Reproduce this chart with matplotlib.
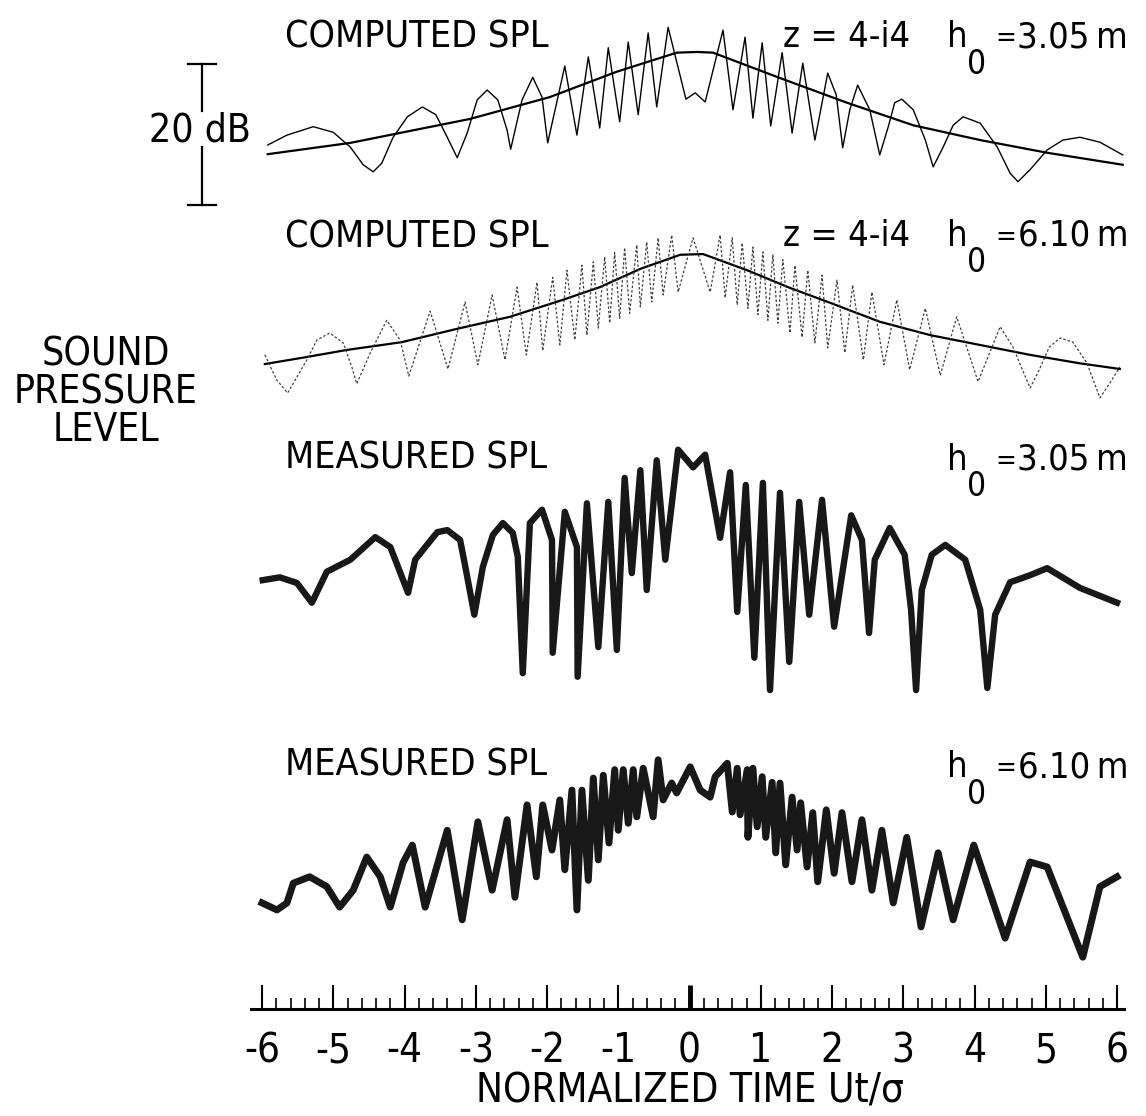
import matplotlib
matplotlib.use("Agg")
import matplotlib.pyplot as plt
from matplotlib import font_manager as fm
from matplotlib.ticker import MultipleLocator

# pick a condensed sans if one is installed (the original lettering is narrow)
narrow = ('condensed', 'semi-condensed', 'extra-condensed')
family, stretch = 'DejaVu Sans', 'normal'
for want in ['Liberation Sans Narrow', 'DejaVu Sans', 'Roboto Condensed', 'Roboto',
             'Open Sans Condensed', 'Open Sans', 'Noto Sans']:
    hits = [f for f in fm.fontManager.ttflist if f.name == want and f.stretch in narrow]
    if hits:
        family, stretch = want, hits[0].stretch
        break
plt.rcParams['font.family'] = [family, 'DejaVu Sans']
plt.rcParams['font.stretch'] = stretch

# Normalized time Ut/sigma (x) and level in dB above each panel's own floor (y)

# computed SPL, h0 = 3.05 m : smooth (free field) curve and interference curve
c1_smooth_x = [-5.92, -4.76, -3.08, -1.96, -1.02, -0.18, 0.11, 0.33, 1.27, 2.21, 3.14, 4.08, 5.02, 6.08]
c1_smooth_y = [6.5, 8.1, 11.5, 14.6, 18.2, 20.9, 21.0, 20.9, 17.3, 13.8, 10.6, 8.5, 6.7, 5.0]
c1_x = [-5.92, -5.65, -5.28, -5.00, -4.76, -4.58, -4.44, -4.32, -4.16, -3.96, -3.75, -3.56,
        -3.40, -3.26, -3.12, -2.98, -2.84, -2.69, -2.56, -2.51, -2.35, -2.20, -2.07, -1.99,
        -1.75, -1.58, -1.42, -1.26, -1.14, -0.98, -0.86, -0.72, -0.58, -0.46, -0.30, -0.05,
        0.08, 0.22, 0.47, 0.61, 0.78, 0.89, 1.02, 1.14, 1.30, 1.44, 1.59, 1.76, 1.94, 2.06,
        2.15, 2.25, 2.36, 2.53, 2.67, 2.79, 2.88, 2.98, 3.14, 3.31, 3.42, 3.56, 3.70, 3.84,
        4.08, 4.32, 4.50, 4.61, 4.78, 5.02, 5.24, 5.48, 5.76, 6.08]
c1_y = [7.8, 9.2, 10.4, 9.6, 7.5, 5.0, 4.0, 5.2, 8.9, 11.8, 13.2, 12.1,
        8.9, 6.0, 9.5, 14.2, 15.6, 14.2, 9.9, 7.2, 14.2, 17.4, 14.6, 8.1,
        19.0, 9.2, 20.3, 10.2, 21.6, 11.1, 22.4, 12.1, 23.7, 13.2, 24.5, 14.3,
        15.2, 13.9, 24.1, 12.8, 23.1, 11.6, 22.3, 10.5, 20.9, 9.5, 19.4, 8.5, 18.0, 14.9,
        7.4, 12.8, 16.3, 12.8, 6.4, 10.4, 13.8, 14.3, 12.8, 8.5, 4.7, 7.5, 10.6, 11.8,
        10.9, 7.5, 3.8, 2.6, 4.3, 7.1, 8.5, 8.9, 8.2, 6.4]

# computed SPL, h0 = 6.10 m
c2_smooth_x = [-5.96, -5.37, -4.81, -4.04, -3.26, -2.52, -1.78, -1.26, -0.69, -0.13, 0.19,
               0.81, 1.41, 1.97, 2.67, 3.38, 4.08, 4.78, 5.48, 6.04]
c2_smooth_y = [5.1, 6.1, 7.1, 8.2, 10.1, 11.8, 14.2, 16.0, 18.6, 20.6, 20.7,
               18.4, 15.9, 13.8, 11.1, 9.2, 7.8, 6.4, 5.2, 4.4]
c2_x = [-5.96, -5.79, -5.64, -5.37, -5.23, -5.05, -4.86, -4.74, -4.67, -4.48, -4.25, -4.06,
        -3.94, -3.64, -3.39,
        -3.15, -2.97, -2.77, -2.59, -2.42, -2.29, -2.14, -2.06, -1.92, -1.82, -1.72, -1.61,
        -1.51, -1.44, -1.35, -1.28, -1.19, -1.12, -1.05, -0.98, -0.91, -0.84, -0.74, -0.69,
        -0.60, -0.53, -0.44, -0.37, -0.25, -0.16, 0.05, 0.29, 0.43, 0.50, 0.60, 0.67, 0.74,
        0.82, 0.89, 0.96, 1.03, 1.10, 1.17, 1.24, 1.31, 1.41, 1.48, 1.58, 1.66, 1.76, 1.86,
        1.94, 2.07, 2.18, 2.29, 2.44, 2.56, 2.73, 2.91, 3.09, 3.31, 3.52, 3.75, 4.05, 4.36,
        4.54, 4.78, 4.91, 5.05, 5.20, 5.38, 5.58, 5.76, 5.90, 6.04]
c2_y = [6.4, 2.8, 1.0, 5.7, 8.5, 9.5, 8.1, 4.7, 2.3, 6.7, 11.3, 8.5,
        3.4, 12.6, 4.4,
        13.9, 5.0, 14.9, 5.7, 16.0, 6.4, 16.7, 7.0, 17.4, 7.8, 18.4, 8.5,
        19.1, 9.2, 19.6, 10.2, 20.3, 10.9, 20.9, 11.6, 21.6, 12.3, 22.0, 13.2,
        22.4, 13.9, 23.0, 14.9, 23.4, 15.3, 23.0, 15.3, 23.4, 14.5, 23.0, 13.5, 22.3,
        13.0, 21.7, 12.1, 21.0, 11.3, 20.6, 10.9, 19.9, 9.5, 19.1, 8.9, 18.4, 8.1, 17.7,
        7.4, 17.0, 6.7, 16.3, 5.7, 15.3, 5.0, 14.2, 4.3, 13.0, 3.5, 11.8, 2.6, 10.4,
        7.5, 1.7, 4.3, 7.5, 8.8, 8.2, 5.2, 0.3, 2.4, 4.7]

# measured SPL, h0 = 3.05 m
m1_x = [-5.99, -5.75, -5.51, -5.30, -5.09, -4.76, -4.41, -4.20, -4.13, -3.95, -3.85, -3.74,
        -3.54, -3.40, -3.22, -3.15, -3.02, -2.90, -2.76, -2.62, -2.48, -2.41, -2.34, -2.24,
        -2.07, -1.93, -1.92, -1.75, -1.58, -1.57, -1.44, -1.28, -1.14, -1.02, -0.91, -0.81,
        -0.69, -0.60, -0.46, -0.34, -0.16, 0.05, 0.22, 0.43, 0.57, 0.67, 0.79, 0.91, 1.03,
        1.13, 1.27, 1.40, 1.54, 1.68, 1.86, 2.03, 2.27, 2.42, 2.52, 2.60, 2.81, 3.02, 3.11,
        3.18, 3.26, 3.40, 3.59, 3.87, 4.08, 4.18, 4.29, 4.50, 4.78, 5.02, 5.48, 6.00]
m1_y = [17.0, 17.4, 16.6, 13.8, 18.2, 19.9, 23.1, 21.7, 19.9, 15.2, 19.9, 21.3,
        23.8, 24.1, 22.7, 19.1, 12.1, 18.9, 23.4, 25.1, 23.7, 20.3, 3.8, 25.1,
        27.0, 22.7, 6.7, 26.7, 21.7, 3.3, 27.9, 7.5, 28.1, 7.1, 31.5, 18.0,
        32.6, 15.6, 34.0, 19.9, 35.5, 33.0, 34.8, 23.0, 32.3, 12.5, 30.5, 6.0, 30.8,
        1.4, 29.4, 5.4, 28.1, 12.1, 28.4, 10.4, 26.2, 22.7, 9.5, 19.9, 24.4, 20.6, 12.8,
        1.4, 15.6, 20.6, 22.0, 19.9, 12.8, 1.7, 12.1, 16.7, 17.7, 18.7, 15.9, 13.8]

# measured SPL, h0 = 6.10 m
m2_x = [-6.00, -5.79, -5.65, -5.56, -5.33, -5.09, -4.91, -4.72, -4.53, -4.34, -4.20, -4.02,
        -3.89, -3.71, -3.40, -3.19, -2.97, -2.77, -2.56, -2.45, -2.28, -2.15, -2.06, -1.93,
        -1.82, -1.75, -1.65, -1.58, -1.51, -1.42, -1.35, -1.28, -1.21, -1.13, -1.05, -1.00,
        -0.93, -0.86, -0.79, -0.74, -0.65, -0.51, -0.44, -0.37, -0.25, -0.18, 0.01, 0.15,
        0.29, 0.36, 0.53, 0.60, 0.67, 0.71, 0.81, 0.82, 0.89, 0.95, 1.02, 1.07, 1.16, 1.21,
        1.27, 1.35, 1.44, 1.51, 1.56, 1.65, 1.73, 1.80, 1.92, 2.03, 2.14, 2.28, 2.42, 2.56,
        2.70, 2.86, 3.05, 3.25, 3.49, 3.70, 3.99, 4.43, 4.78, 5.02, 5.52, 5.76, 6.00]
m2_y = [8.1, 7.1, 8.1, 10.9, 11.8, 10.4, 7.5, 9.9, 14.6, 11.8, 7.5, 13.8,
        16.3, 7.5, 18.4, 5.7, 19.6, 9.9, 19.9, 8.9, 22.0, 11.8, 22.0, 15.6,
        22.7, 12.8, 24.1, 7.1, 24.1, 11.3, 25.8, 14.2, 26.2, 16.6, 27.0, 18.4,
        27.0, 19.4, 27.0, 20.3, 27.2, 20.3, 28.4, 22.7, 25.1, 23.7, 27.4, 24.1,
        23.1, 26.0, 27.9, 21.0, 27.2, 20.6, 27.0, 17.4, 27.2, 18.9, 26.0, 17.4, 25.2, 15.2,
        25.1, 13.5, 23.1, 15.6, 22.3, 13.2, 20.9, 11.1, 21.3, 12.3, 20.9, 11.1, 19.9, 9.9,
        18.4, 8.1, 17.4, 4.7, 15.2, 5.7, 16.3, 3.1, 13.9, 13.2, 0.4, 10.4, 11.8]

tick_values = list(range(-6, 7))
tick_labels = [str(v) for v in tick_values]

W, H = 1146, 1116
PX_PER_UNIT = 71.25    # pixels per unit of Ut/sigma
PX_PER_DB = 7.05       # pixels per dB

fig = plt.figure(figsize=(W / 100, H / 100), dpi=100)
x_lo, x_hi = -6.15, 6.10
left_px = 689.5 + x_lo * PX_PER_UNIT
ax = fig.add_axes([left_px / W, 0, (x_hi - x_lo) * PX_PER_UNIT / W, 1])
ax.set_xlim(x_lo, x_hi)
ax.set_ylim(0, H / PX_PER_DB)


def off(py):
    # panel floor given as pixel row -> y offset in dB
    return (H - py) / PX_PER_DB


def txt(px, py, s, **kw):
    kw.setdefault('va', 'baseline')
    fig.text(px / W, 1 - py / H, s, **kw)


# panel 1
o = off(200)
ax.plot(c1_smooth_x, [v + o for v in c1_smooth_y], color='black', lw=1.6)
ax.plot(c1_x, [v + o for v in c1_y], color='black', lw=1.0)
# panel 2
o = off(400)
ax.plot(c2_smooth_x, [v + o for v in c2_smooth_y], color='black', lw=1.6)
ax.plot(c2_x, [v + o for v in c2_y], color='0.25', lw=0.9, ls=(0, (2, 1.6)))
# panel 3
o = off(700)
ax.plot(m1_x, [v + o for v in m1_y], color='#181818', lw=4.6, solid_joinstyle='round')
# panel 4
o = off(960)
ax.plot(m2_x, [v + o for v in m2_y], color='#181818', lw=5.0, solid_joinstyle='round')

# time ruler
for s in ['top', 'left', 'right']:
    ax.spines[s].set_visible(False)
ax.spines['bottom'].set_position(('data', off(1009)))
ax.spines['bottom'].set_linewidth(2.2)
ax.set_yticks([])
ax.set_xticks(tick_values)
ax.set_xticklabels(tick_labels, fontsize=29)
ax.xaxis.set_minor_locator(MultipleLocator(0.2))
ax.tick_params(axis='x', which='major', direction='in', length=17, width=1.5, pad=16)
ax.tick_params(axis='x', which='minor', direction='in', length=8, width=1.2)
ax.xaxis.get_major_ticks()[6].tick1line.set_markeredgewidth(3.5)
ax.patch.set_alpha(0)

# 20 dB scale bar
bx = (202 - 689.5) / PX_PER_UNIT
cap = 14 / PX_PER_UNIT
y0 = off(205)
ax.plot([bx, bx], [y0, y0 + 8.2], color='black', lw=1.6, clip_on=False)
ax.plot([bx, bx], [y0 + 13.3, y0 + 20], color='black', lw=1.6, clip_on=False)
ax.plot([bx - cap, bx + cap], [y0, y0], color='black', lw=1.6, clip_on=False)
ax.plot([bx - cap, bx + cap], [y0 + 20, y0 + 20], color='black', lw=1.6, clip_on=False)
txt(200, 131, '20 dB', fontsize=28, ha='center', va='center')

# labels
txt(106, 392, 'SOUND\nPRESSURE\nLEVEL', fontsize=28, ha='center', va='center',
    multialignment='center', linespacing=1.0)
txt(690, 1092, 'NORMALIZED TIME Ut/σ', fontsize=29, ha='center', va='center')

for base, title in [(48, 'COMPUTED SPL'), (247, 'COMPUTED SPL'),
                    (468, 'MEASURED SPL'), (775, 'MEASURED SPL')]:
    txt(285, base, title, fontsize=27)

for base, val, zlab in [(47, '3.05', True), (246, '6.10', True),
                        (470, '3.05', False), (777, '6.10', False)]:
    if zlab:
        txt(783, base, 'z = 4-i4', fontsize=26)
    txt(947, base, 'h', fontsize=26)
    txt(977, base + 17, '0', fontsize=24, ha='center', va='center')
    txt(1006, base - 9, '=', fontsize=20, ha='center', va='center')
    txt(1128, base, val + '\u2009m', fontsize=26, ha='right')

fig.savefig('out.png', dpi=100)
